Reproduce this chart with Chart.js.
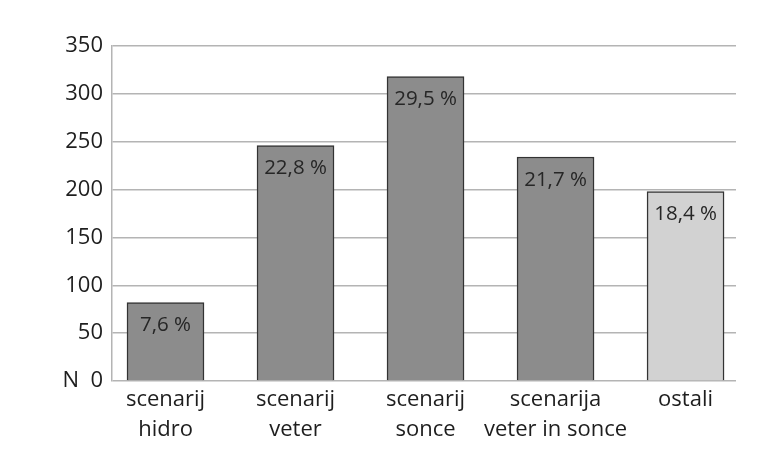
<!DOCTYPE html>
<html>
<head>
<meta charset="utf-8">
<script src="https://cdn.jsdelivr.net/npm/chart.js@4.4.1/dist/chart.umd.min.js"></script>
<style>
  body { margin: 0; background: #fff; }
  #wrap { width: 771px; height: 453px; }
</style>
</head>
<body>
<div id="wrap"><canvas id="myChart" width="771" height="453"></canvas></div>
<script>
// categories (two-line labels under each bar)
var categories = [
    ['scenarij', 'hidro'],
    ['scenarij', 'veter'],
    ['scenarij', 'sonce'],
    ['scenarija', 'veter in sonce'],
    ['ostali']
];
// number of answers per category
var counts = [82, 246, 318, 234, 198];
var barColors = ['#8c8c8c', '#8c8c8c', '#8c8c8c', '#8c8c8c', '#d2d2d2'];
var yTicks = [0, 50, 100, 150, 200, 250, 300, 350];

var total = counts.reduce(function(a, b){ return a + b; }, 0);
var shares = counts.map(function(v){
    return (v / total * 100).toFixed(1).replace('.', ',') + ' %';
});

var FONT = '"Open Sans", sans-serif';

// percentage text inside the top of each bar
var shareLabels = {
    id: 'shareLabels',
    afterDatasetsDraw: function(chart) {
        var ctx = chart.ctx;
        var meta = chart.getDatasetMeta(0);
        ctx.save();
        ctx.font = '20.5px ' + FONT;
        ctx.fillStyle = '#262626';
        ctx.textAlign = 'center';
        ctx.textBaseline = 'middle';
        meta.data.forEach(function(bar, i){
            ctx.fillText(shares[i], bar.x, bar.y + 23);
        });
        ctx.restore();
    }
};

var ctx = document.getElementById('myChart').getContext('2d');
var chart = new Chart(ctx, {
    type: 'bar',
    data: {
        datasets: [{
            data: counts.map(function(v, i){ return {x: i, y: v}; }),
            backgroundColor: barColors,
            borderColor: '#333333',
            borderWidth: 1.5,
            barThickness: 77
        }]
    },
    options: {
        responsive: false,
        animation: false,
        layout: { padding: { top: 46, right: 35, bottom: 0, left: 0 } },
        plugins: { legend: { display: false }, tooltip: { enabled: false } },
        scales: {
            x: {
                type: 'linear',
                offset: false,
                min: -0.4115,
                max: 4.388,
                grid: { display: false, drawTicks: false },
                border: { display: false },
                afterBuildTicks: function(scale) {
                    scale.ticks = categories.map(function(_, i){ return {value: i}; });
                },
                afterFit: function(scale) { scale.height = 453 - 381; },
                ticks: {
                    padding: 4,
                    color: '#1e1e1e',
                    font: { family: FONT, size: 22, lineHeight: 1.35 },
                    maxRotation: 0,
                    autoSkip: false,
                    callback: function(v) { return categories[v]; }
                }
            },
            y: {
                min: 0,
                max: 350,
                afterBuildTicks: function(scale) {
                    scale.ticks = yTicks.map(function(v){ return {value: v}; });
                },
                afterFit: function(scale) { scale.width = 112; },
                grid: { color: '#b4b4b4', lineWidth: 1.5, drawTicks: false },
                border: { color: '#b4b4b4', width: 1.5 },
                ticks: {
                    padding: 9,
                    color: '#1e1e1e',
                    font: { family: FONT, size: 22 },
                    callback: function(v) { return v === 0 ? 'N  0' : v; }
                }
            }
        }
    },
    plugins: [shareLabels]
});
</script>
</body>
</html>
